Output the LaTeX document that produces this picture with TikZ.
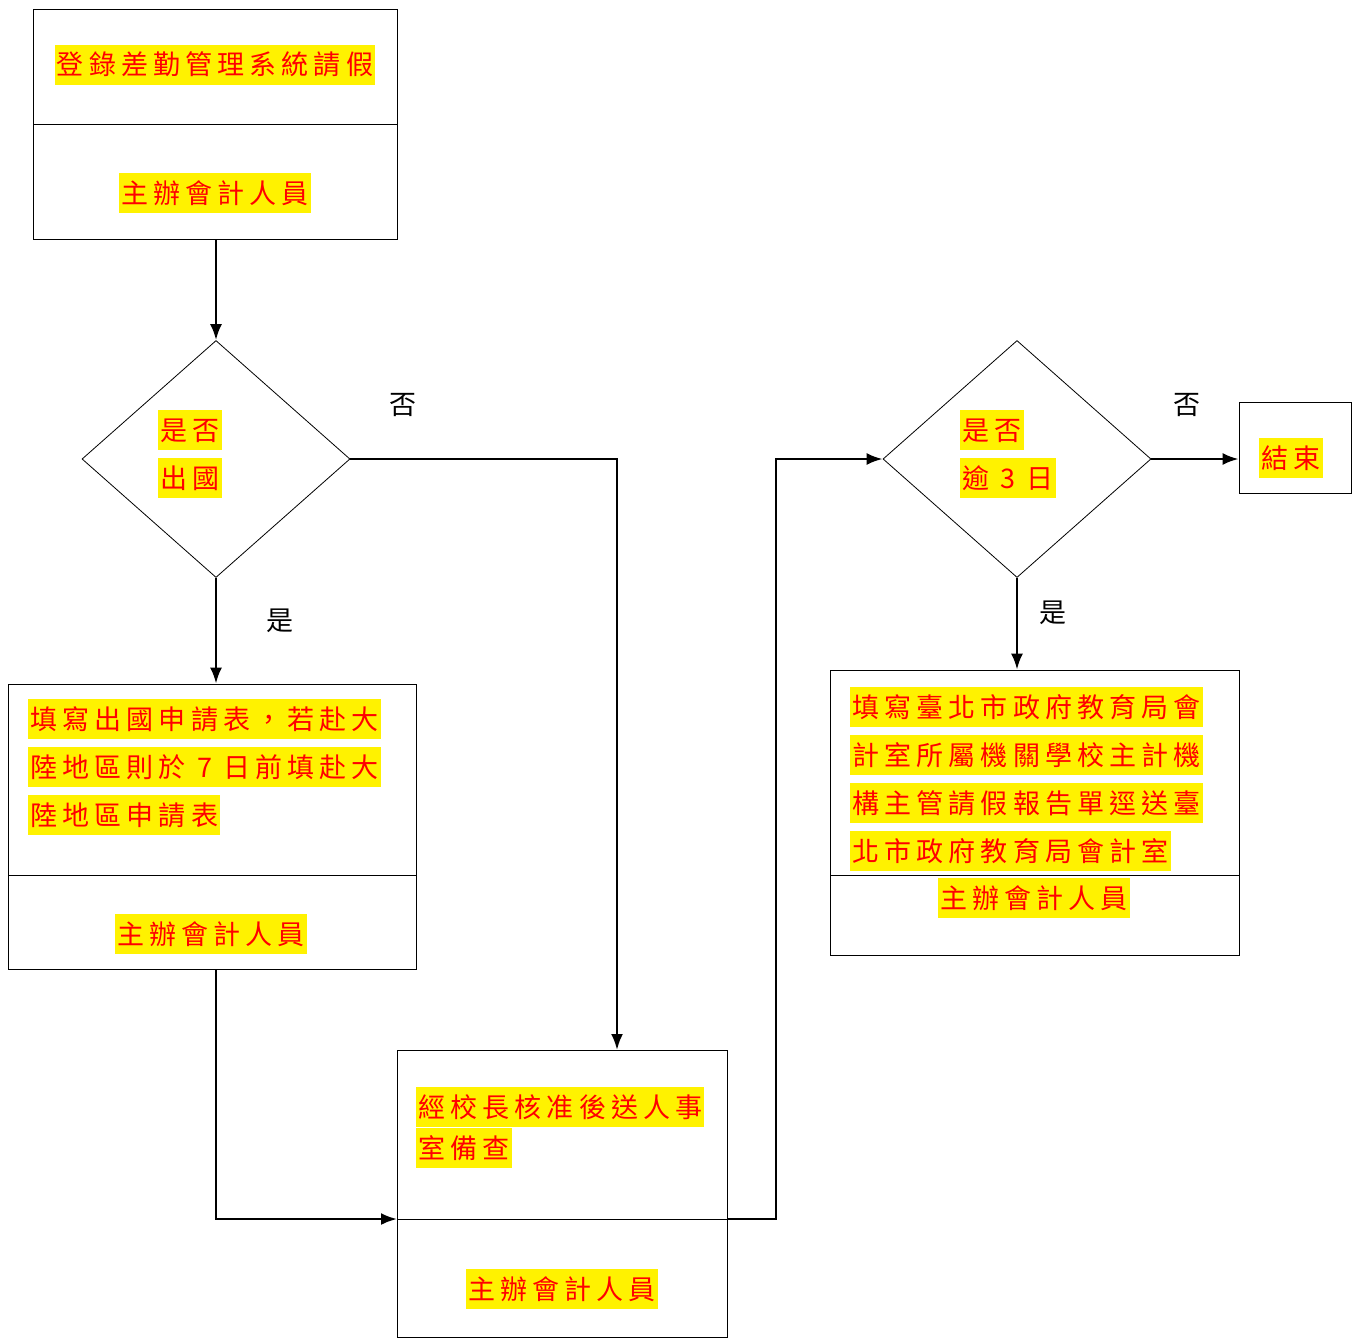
\documentclass[tikz,border=0pt]{standalone}
\usepackage{fontspec}
\newfontfamily\cjk[LetterSpace=19]{Noto Sans CJK TC}
\usetikzlibrary{positioning,calc,shapes,arrows.meta,fit}
\newcommand{\hl}[1]{{\setlength{\fboxsep}{0pt}\colorbox{yellow}{\rule[-5pt]{0pt}{20pt}\hspace{1pt}#1\hspace{1pt}}}}
\tikzset{
	x=0.5pt, y=-0.5pt, line width=1pt,
	flow/.style={line width=1.2pt, -{Latex[length=8pt,width=6pt]}}, % connectors only
	box/.style={draw, inner sep=0pt},
	decide/.style={diamond, draw, inner sep=0pt, minimum width=134pt, minimum height=118.5pt},
	txt/.style={inner sep=0pt, align=left, text=red, font=\cjk\fontsize{13.5}{24}\selectfont},
	lbl/.style={inner sep=0pt, font=\cjk\fontsize{13.5}{24}\selectfont}
}

\begin{document}
\begin{tikzpicture}
\useasboundingbox (0,0) rectangle (1359,1338);
% boxes and decisions
\node[box, fit={(33,9) (397,239)}] (b1) {};
\node[box, fit={(8,684) (416,969)}] (b2) {};
\node[box, fit={(397,1050) (727,1337)}] (b3) {};
\node[box, fit={(830,670) (1239,955)}] (b4) {};
\node[box, fit={(1239,402) (1351,493)}] (e) {};
\node[decide] (d1) at (216,459) {};
\node[decide] (d2) at (1017,459) {};
\draw (33,124) -- (397,124);
\draw (8,875) -- (416,875);
\draw (830,875) -- (1239,875);
\coordinate (b3l) at (397,1219);
\coordinate (b3r) at (727,1219);
\draw (b3l) -- (b3r);
\coordinate (in3) at (617,1050);
% texts
\node[txt] (t1) at (215,65) {\hl{登錄差勤管理系統請假}};
\node[txt] (p1) at (215,193) {\hl{主辦會計人員}};
\node[txt, anchor=north west] (q1) at (158,410) {\hl{是否}\\\hl{出國}};
\node[txt, anchor=north west] (t2) at (28,699) {\hl{填寫出國申請表，若赴大}\\\hl{陸地區則於 7 日前填赴大}\\\hl{陸地區申請表}};
\node[txt] (p2) at (211,934) {\hl{主辦會計人員}};
\node[txt, anchor=north west] (t3) at (416,1087) {\hl{經校長核准後送人事}\\[-3.5pt]\hl{室備查}};
\node[txt] (p3) at (562,1289) {\hl{主辦會計人員}};
\node[txt, anchor=north west] (q2) at (960,410) {\hl{是否}\\\hl{逾 3 日}};
\node[txt] (te) at (1291,458) {\hl{結束}};
\node[txt, anchor=north west] (t4) at (850,687) {\hl{填寫臺北市政府教育局會}\\\hl{計室所屬機關學校主計機}\\\hl{構主管請假報告單逕送臺}\\\hl{北市政府教育局會計室}};
\node[txt] (p4) at (1034,898) {\hl{主辦會計人員}};
\node[lbl] (no1) at (403,405) {否};
\node[lbl] (yes1) at (280,621) {是};
\node[lbl] (no2) at (1187,405) {否};
\node[lbl] (yes2) at (1053,613) {是};
% connectors
\draw[flow] (d1.north |- b1.south) -- (d1.north);
\draw[flow] (d1.east) -| (in3);
\draw[flow] (d1.south) -- (d1.south |- b2.north);
\draw[flow] (d1.south |- b2.south) |- (b3l);
\draw[flow] (b3r) -- ++(49,0) |- (d2.west);
\draw[flow] (d2.east) -- (d2.east -| e.west);
\draw[flow] (d2.south) -- (d2.south |- b4.north);
\end{tikzpicture}
\end{document}
